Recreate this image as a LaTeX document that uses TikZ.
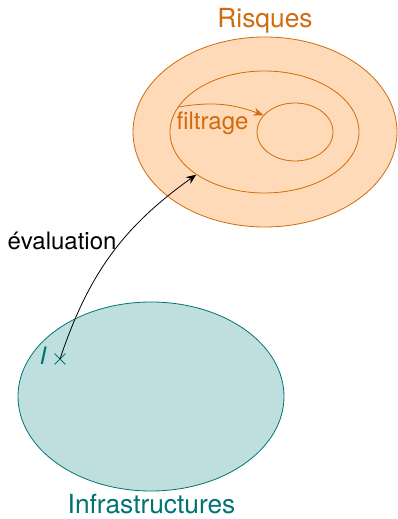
\documentclass[tikz,border=0pt]{standalone}
\usepackage{fontspec}
\setmainfont{TeX Gyre Heros}
\usetikzlibrary{shapes.geometric,shapes.misc,arrows.meta}
\definecolor{orfill}{rgb}{1,0.855,0.72}
\definecolor{orline}{rgb}{0.82,0.42,0.05}
\definecolor{tefill}{rgb}{0.745,0.875,0.87}
\definecolor{teline}{rgb}{0,0.45,0.45}
\begin{document}
\begin{tikzpicture}[x=1pt,y=1pt,
  oell/.style={ellipse,draw=orline,line width=0.8pt,inner sep=0pt},
  tell/.style={ellipse,draw=teline,fill=tefill,line width=0.8pt,inner sep=0pt},
  bigtxt/.style={font=\fontsize{26.3}{31}\selectfont,anchor=base,inner sep=0pt},
  smalltxt/.style={font=\fontsize{24}{28}\selectfont,anchor=base,inner sep=0pt},
  arr/.style={line width=0.8pt,-{Stealth[length=10pt,width=8pt]}}]
\useasboundingbox (0,0) rectangle (397,519);
\node[oell,fill=orfill,minimum width=264,minimum height=190] (outer) at (265,387) {};
\node[oell,minimum width=189,minimum height=122] (middle) at (264.5,387) {};
\node[oell,minimum width=76,minimum height=58] (inner) at (295,387) {};
\node[bigtxt,text=orline] (risq) at (265,491.5) {Risques};
\node[smalltxt,text=orline] (filt) at (212.5,389) {filtrage};
\node[tell,minimum width=266,minimum height=189] (infra) at (151,122.5) {};
\node[bigtxt,text=teline] (inftxt) at (151.5,5.5) {Infrastructures};
\node[cross out,draw=teline,line width=0.8pt,minimum size=10pt,inner sep=0pt] (I) at (60,160) {};
\node[smalltxt,text=teline] (Ilab) at (43,154) {\itshape I};
\node[smalltxt] (eval) at (62,269) {évaluation};
\draw[arr,color=orline] (middle.164) to[bend left=15] (inner.152);
\draw[arr] (I.center) to[bend left=18] (middle.212);
\end{tikzpicture}
\end{document}
